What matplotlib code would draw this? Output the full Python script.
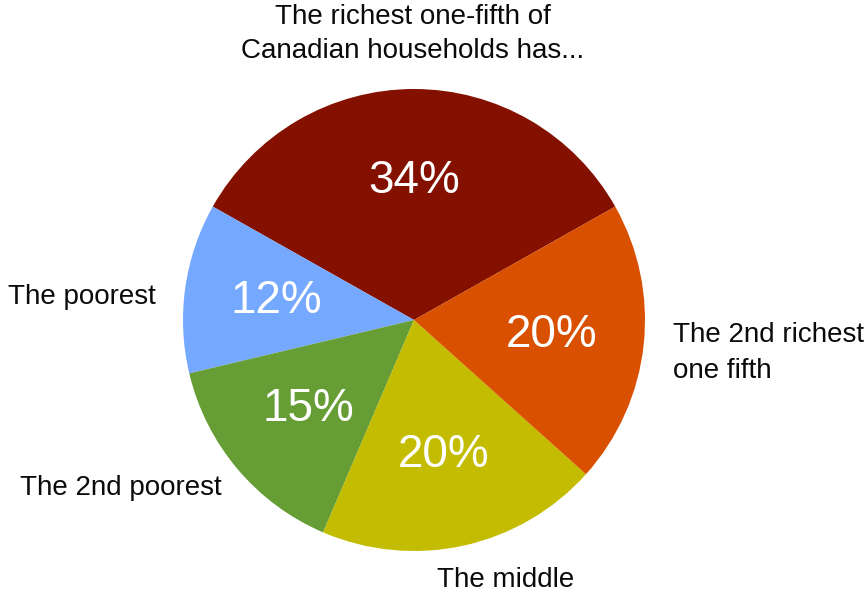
import matplotlib
matplotlib.use("Agg")
import matplotlib.pyplot as plt
import numpy as np

shares = [34, 12, 15, 20, 20]
pct_labels = ["34%", "12%", "15%", "20%", "20%"]
names = ["The richest one-fifth of\nCanadian households has...", "The poorest",
         "The 2nd poorest", "The middle", "The 2nd richest\none fifth"]
colors = ["#841000", "#75A8FF", "#669D34", "#C4BC00", "#D95000"]

W, H = 867, 596
plt.rcParams["font.family"] = ["Liberation Sans", "DejaVu Sans"]
fig = plt.figure(figsize=(W / 100, H / 100), dpi=100)
ax = fig.add_axes([0, 0, 1, 1])

cx, cy, r = 414, H - 320, 231
tot = sum(shares)
start = 90 - shares[0] / tot * 360 / 2
ax.pie(shares, colors=colors, startangle=start, counterclock=True,
       center=(cx, cy), radius=r, frame=True, wedgeprops=dict(linewidth=0))
ax.set_xlim(0, W)
ax.set_ylim(0, H)
ax.set_aspect("equal")
ax.axis("off")

ang = start
for s, lab in zip(shares, pct_labels):
    mid = np.deg2rad(ang + s / tot * 180)
    ang += s / tot * 360
    ax.text(cx + 0.6 * r * np.cos(mid), cy + 0.6 * r * np.sin(mid), lab,
            color="white", fontsize=33, ha="center", va="center")

label_pos = [(413, H - 34, "center", 1.38), (8, H - 297, "left", 1.25),
             (20, H - 488, "left", 1.25), (437, H - 580, "left", 1.25),
             (673, H - 353, "left", 1.45)]
for name, (x, y, ha, ls) in zip(names, label_pos):
    ax.text(x, y, name, fontsize=20, ha=ha, va="center", color="#0a0a0a",
            linespacing=ls)

fig.savefig("out.png", dpi=100)
